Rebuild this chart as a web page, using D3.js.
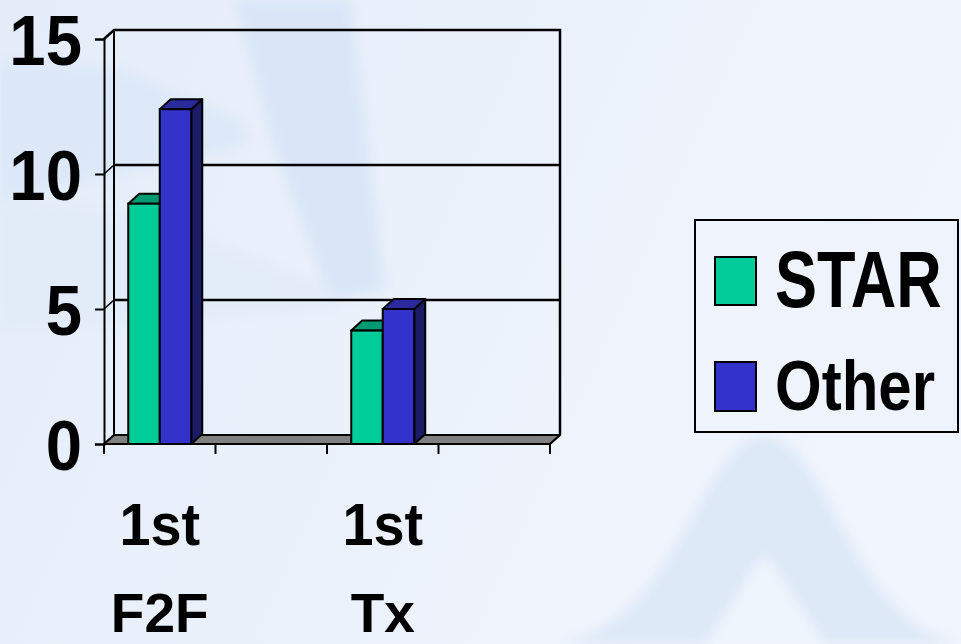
<!DOCTYPE html>
<html>
<head>
<meta charset="utf-8">
<script src="https://cdn.jsdelivr.net/npm/d3@7"></script>
<style>
  html, body { margin: 0; padding: 0; background: #ecf2fb; }
  svg { display: block; }
  text { font-family: "Liberation Sans", Arial, sans-serif; font-weight: bold; fill: #000; }
</style>
</head>
<body>
<svg id="chart" width="961" height="644"></svg>
<script>
// ---- data ----
const categories = ["1st F2F", "", "1st Tx", ""];
const seriesNames = ["STAR", "Other"];
const starValues = [8.9, null, 4.2, null];
const otherValues = [12.4, null, 5.0, null];
const yTickValues = [0, 5, 10, 15];

// ---- styling ----
const colors = {
  STAR:  { front: "#00cc99", top: "#009a72", side: "#006b50" },
  Other: { front: "#3333cc", top: "#2a2a9c", side: "#1c1c66" }
};

const svg = d3.select("#chart");
const W = 961, H = 644;

// ---- background ----
const defs = svg.append("defs");
const bg = defs.append("linearGradient").attr("id", "bgGrad")
  .attr("x1", 0).attr("y1", 0).attr("x2", 1).attr("y2", 0.3);
bg.append("stop").attr("offset", 0).attr("stop-color", "#e4edf9");
bg.append("stop").attr("offset", 0.5).attr("stop-color", "#ebf1fb");
bg.append("stop").attr("offset", 1).attr("stop-color", "#f1f5fd");
defs.append("filter").attr("id", "blur").append("feGaussianBlur").attr("stdDeviation", 6);

svg.append("rect").attr("width", W).attr("height", H).attr("fill", "url(#bgGrad)");
const shapes = svg.append("g").attr("filter", "url(#blur)");
shapes.append("path")
  .attr("d", "M235,0 L350,0 L365,120 L385,290 L330,300 L275,150 Z")
  .attr("fill", "#d3e3f5").attr("opacity", 0.75);
shapes.append("path")
  .attr("d", "M0,60 L120,70 L240,120 L250,140 L230,150 L0,200 Z")
  .attr("fill", "#d6e5f6").attr("opacity", 0.6);
shapes.append("path")
  .attr("d", "M0,200 L120,210 L260,260 L350,295 L330,310 L0,330 Z")
  .attr("fill", "#dde9f7").attr("opacity", 0.5);
shapes.append("path")
  .attr("d", "M560,644 C680,625 700,440 765,436 C830,440 850,625 961,644 Z")
  .attr("fill", "#d9e6f6").attr("opacity", 0.85);
shapes.append("path")
  .attr("d", "M705,644 L758,562 Q765,552 772,562 L825,644 Z")
  .attr("fill", "#eef4fc");

// ---- scales ----
const x = d3.scaleBand().domain(d3.range(categories.length)).range([104, 550]);
const x1 = d3.scaleBand().domain(seriesNames).range([0, x.bandwidth()]).paddingOuter(0.77);
const y = d3.scaleLinear().domain([0, 15]).range([444, 39]);

const DX = 10, DY = -9;     // wall depth offset
const BDX = 11, BDY = -10;  // bar depth offset

const [xL, xR] = x.range();
const y0 = y(0), yTop = y(15);

// back wall
const g = svg.append("g");
g.append("path")
  .attr("d", `M${xL},${yTop} L${xL + DX},${yTop + DY} L${xR + DX},${yTop + DY} L${xR + DX},${y0 + DY}`)
  .attr("fill", "none").attr("stroke", "#000").attr("stroke-width", 2.5);
g.append("line")
  .attr("x1", xL + DX).attr("x2", xL + DX).attr("y1", yTop + DY).attr("y2", y0 + DY)
  .attr("stroke", "#000").attr("stroke-width", 2);

// gridlines on wall + diagonals
yTickValues.forEach(v => {
  const yy = y(v);
  g.append("line").attr("x1", xL).attr("y1", yy).attr("x2", xL + DX).attr("y2", yy + DY)
    .attr("stroke", "#000").attr("stroke-width", 1.5);
  if (v > 0 && v < 15) {
    g.append("line").attr("x1", xL + DX).attr("x2", xR + DX).attr("y1", yy + DY).attr("y2", yy + DY)
      .attr("stroke", "#000").attr("stroke-width", 2.4);
  }
});

// floor
g.append("path")
  .attr("d", `M${xL},${y0} L${xR},${y0} L${xR + DX},${y0 + DY} L${xL + DX},${y0 + DY} Z`)
  .attr("fill", "#808080").attr("stroke", "#000").attr("stroke-width", 2.2).attr("stroke-linejoin", "round");

// y axis
const yAxis = d3.axisLeft(y).tickValues(yTickValues).tickSize(9).tickFormat("");
const yAxisG = svg.append("g").attr("transform", `translate(${xL},0)`).call(yAxis);
yAxisG.select(".domain").attr("stroke", "#000").attr("stroke-width", 2);
yAxisG.selectAll(".tick line").attr("stroke", "#000").attr("stroke-width", 2);

yTickValues.forEach(v => {
  svg.append("text")
    .attr("transform", `translate(82,${y(v) + 26}) scale(0.92,1)`)
    .attr("text-anchor", "end")
    .style("font-size", "71px")
    .text(v);
});

// x axis ticks at band boundaries
const boundaries = d3.range(categories.length).map(i => x(i)).concat([xR]);
svg.append("g").selectAll("line").data(boundaries).join("line")
  .attr("x1", d => d).attr("x2", d => d).attr("y1", y0).attr("y2", y0 + 10)
  .attr("stroke", "#000").attr("stroke-width", 2);

// x labels
categories.forEach((c, i) => {
  if (!c) return;
  const parts = c.split(" ");
  const cx = x(i) + x.bandwidth() / 2;
  svg.append("text")
    .attr("transform", `translate(${cx},545) scale(0.98,1.04)`)
    .attr("text-anchor", "middle")
    .style("font-size", "57px")
    .text(parts[0]);
  svg.append("text")
    .attr("transform", `translate(${cx},632) scale(1,1.0)`)
    .attr("text-anchor", "middle")
    .style("font-size", "55px")
    .text(parts[1]);
});

// ---- bars ----
const seriesData = [
  { name: "STAR", values: starValues },
  { name: "Other", values: otherValues }
];
const barsG = svg.append("g");
seriesData.forEach(s => {
  s.values.forEach((v, i) => {
    if (v == null) return;
    const bx0 = x(i) + x1(s.name);
    const bx1 = bx0 + x1.bandwidth();
    const by = y(v);
    const c = colors[s.name];
    const bg = barsG.append("g");
    // side
    bg.append("path")
      .attr("d", `M${bx1},${by} L${bx1 + BDX},${by + BDY} L${bx1 + BDX},${y0 + BDY} L${bx1},${y0} Z`)
      .attr("fill", c.side).attr("stroke", "#000").attr("stroke-width", 2).attr("stroke-linejoin", "round");
    // top
    bg.append("path")
      .attr("d", `M${bx0},${by} L${bx0 + BDX},${by + BDY} L${bx1 + BDX},${by + BDY} L${bx1},${by} Z`)
      .attr("fill", c.top).attr("stroke", "#000").attr("stroke-width", 2).attr("stroke-linejoin", "round");
    // front
    bg.append("rect")
      .attr("x", bx0).attr("y", by).attr("width", bx1 - bx0).attr("height", y0 - by)
      .attr("fill", c.front).attr("stroke", "#000").attr("stroke-width", 2);
  });
});

// ---- legend ----
const legend = svg.append("g");
legend.append("rect").attr("x", 695).attr("y", 220).attr("width", 263).attr("height", 212)
  .attr("fill", "#eef3fc").attr("fill-opacity", 0.6).attr("stroke", "#000").attr("stroke-width", 2);
const legendItems = [
  { name: "STAR", sy: 257, sh: 48, ty: 307, fs: 63, sy2: 1.27 },
  { name: "Other", sy: 362, sh: 49, ty: 410, fs: 60, sy2: 1.17 }
];
legendItems.forEach(it => {
  legend.append("rect").attr("x", 715).attr("y", it.sy).attr("width", 41).attr("height", it.sh)
    .attr("fill", colors[it.name].front).attr("stroke", "#000").attr("stroke-width", 2);
  legend.append("text")
    .attr("transform", `translate(775,${it.ty}) scale(1,${it.sy2})`)
    .style("font-size", it.fs + "px")
    .text(it.name);
});
</script>
</body>
</html>
